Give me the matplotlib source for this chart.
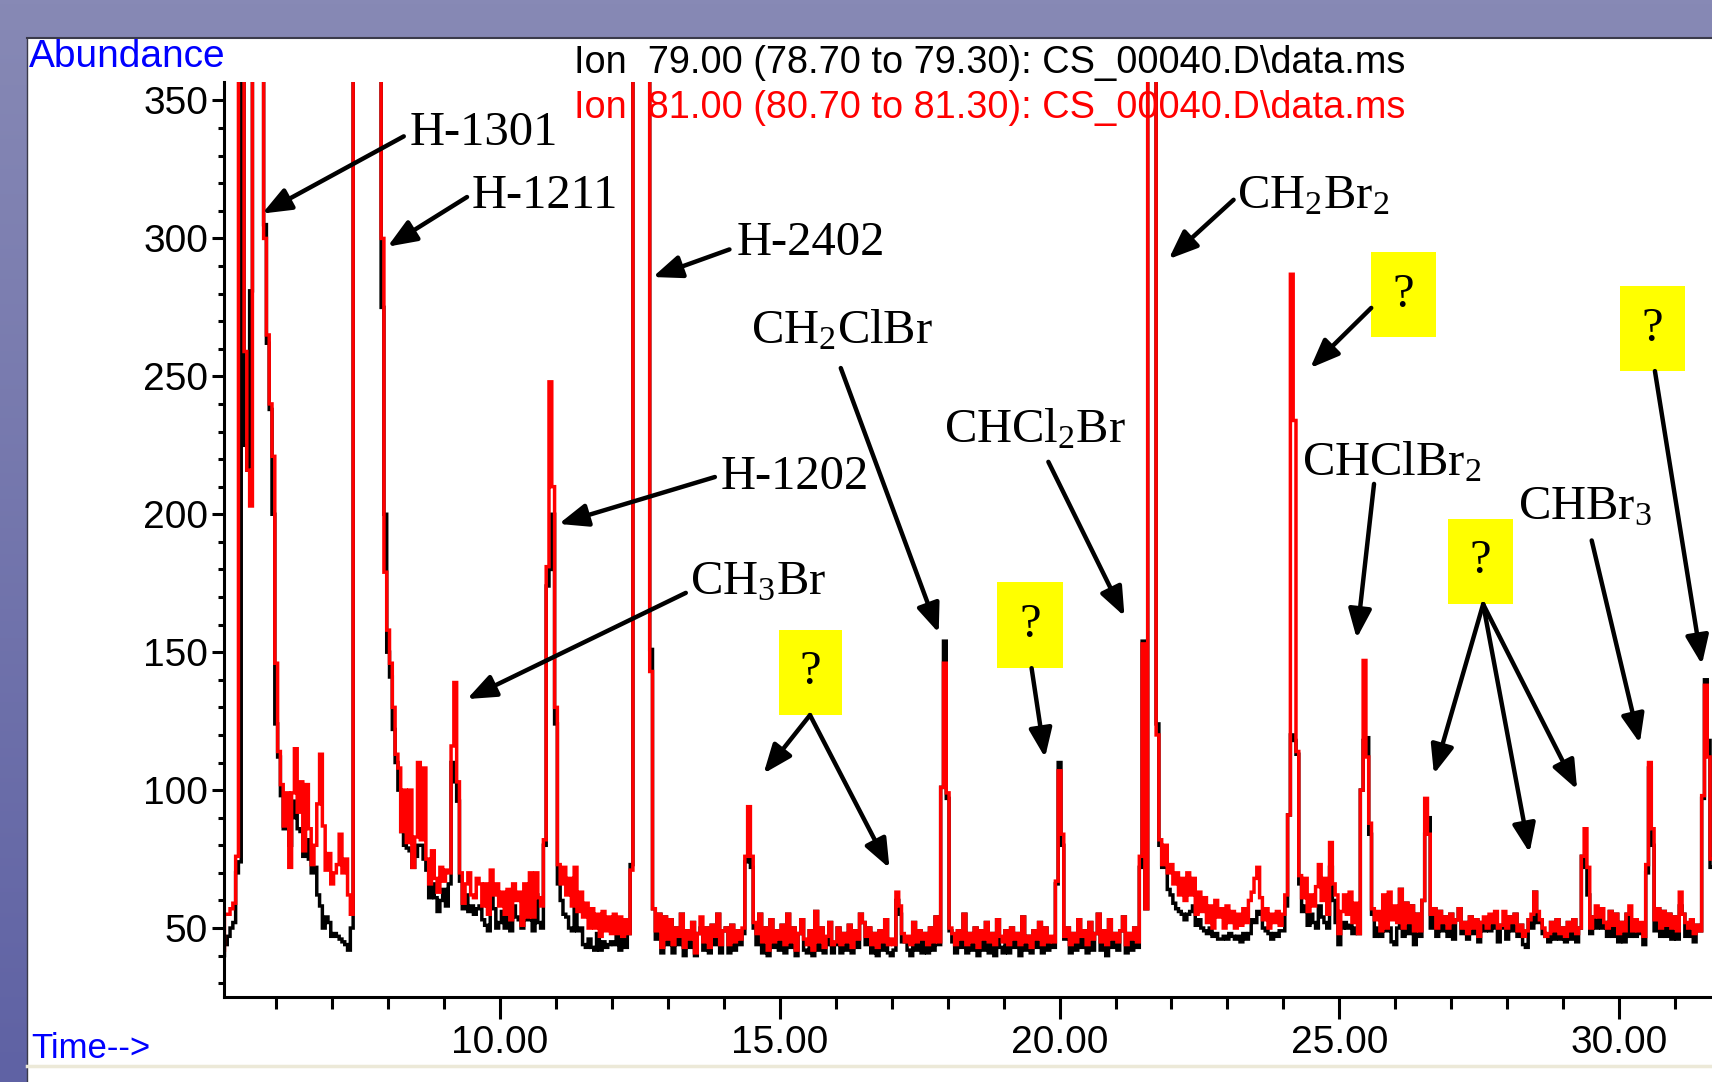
import numpy as np
import matplotlib
matplotlib.use('Agg')
import matplotlib.pyplot as plt
from matplotlib.patches import Rectangle
from matplotlib.lines import Line2D
from matplotlib.ticker import MultipleLocator, FormatStrFormatter

plt.rcParams['mathtext.fontset'] = 'custom'
plt.rcParams['mathtext.rm'] = 'Liberation Serif'

# scans are evenly spaced in time (min)
scan_start = 5.05
scan_step = 0.05

# ion 81 (red), one row per minute, abundance; 500 = off scale
ion81 = [
    42, 55, 55, 57, 59, 76, 500, 500, 259, 216, 203, 500, 500, 500, 500, 300, 265, 240, 221, 146,  # 5.05
    114, 102, 87, 99, 72, 99, 115, 92, 103, 78, 102, 86, 73, 80, 95, 113, 87, 71, 77, 66,  # 6.05
    70, 73, 84, 70, 75, 62, 55, 500, 500, 500, 500, 500, 500, 500, 500, 500, 500, 300, 179, 158,  # 7.05
    146, 130, 113, 108, 85, 100, 81, 100, 72, 83, 110, 82, 108, 75, 66, 78, 68, 63, 72, 67,  # 8.05
    71, 70, 116, 139, 103, 70, 59, 66, 70, 62, 61, 68, 66, 58, 66, 55, 71, 62, 66, 58,  # 9.05
    63, 55, 64, 53, 66, 60, 63, 51, 66, 54, 70, 54, 70, 61, 58, 82, 181, 248, 210, 130,  # 10.05
    73, 66, 72, 62, 68, 58, 72, 56, 63, 54, 59, 50, 57, 50, 55, 47, 56, 49, 54, 48,  # 11.05
    55, 48, 54, 47, 53, 48, 71, 500, 500, 500, 500, 500, 500, 143, 57, 49, 55, 43, 54, 46,  # 12.05
    53, 44, 50, 47, 55, 43, 49, 46, 52, 41, 48, 54, 45, 50, 43, 51, 47, 55, 44, 49,  # 13.05
    50, 44, 51, 45, 49, 46, 50, 76, 94, 76, 52, 48, 55, 45, 50, 42, 53, 45, 49, 46,  # 14.05
    51, 44, 55, 45, 50, 42, 48, 53, 46, 44, 49, 42, 56, 45, 50, 43, 47, 52, 44, 45,  # 15.05
    50, 44, 48, 45, 51, 43, 49, 46, 55, 52, 47, 50, 44, 48, 43, 49, 45, 53, 44, 46,  # 16.05
    44, 63, 58, 48, 45, 47, 44, 52, 45, 49, 46, 48, 44, 50, 45, 54, 45, 101, 146, 99,  # 17.05
    50, 48, 44, 49, 46, 55, 44, 48, 45, 50, 43, 49, 46, 52, 45, 48, 44, 53, 47, 45,  # 18.05
    49, 44, 50, 46, 48, 44, 54, 45, 47, 43, 49, 46, 52, 44, 50, 45, 47, 45, 67, 107,  # 19.05
    84, 47, 50, 44, 48, 45, 53, 47, 49, 44, 52, 46, 48, 55, 45, 49, 44, 53, 46, 48,  # 20.05
    45, 49, 54, 44, 48, 46, 50, 45, 76, 153, 57, 500, 500, 500, 120, 82, 73, 80, 70, 73,  # 21.05
    66, 70, 62, 68, 60, 70, 62, 68, 55, 63, 56, 61, 52, 58, 50, 60, 54, 57, 50, 58,  # 22.05
    52, 56, 50, 55, 51, 57, 52, 60, 63, 68, 72, 61, 53, 57, 50, 55, 52, 56, 51, 55,  # 23.05
    62, 91, 287, 234, 114, 69, 61, 68, 56, 62, 58, 65, 73, 60, 68, 55, 81, 66, 62, 48,  # 24.05
    56, 62, 55, 63, 52, 59, 48, 100, 147, 112, 88, 57, 53, 56, 49, 62, 50, 63, 53, 58,  # 25.05
    52, 64, 50, 59, 52, 58, 49, 55, 49, 60, 97, 84, 55, 57, 50, 56, 52, 54, 50, 55,  # 26.05
    52, 53, 57, 50, 52, 48, 54, 50, 53, 47, 52, 54, 50, 55, 52, 56, 50, 51, 56, 50,  # 27.05
    54, 52, 55, 49, 51, 47, 49, 53, 55, 63, 56, 53, 50, 47, 48, 52, 49, 53, 48, 50,  # 28.05
    47, 52, 49, 53, 48, 50, 76, 86, 72, 50, 54, 58, 54, 57, 52, 50, 56, 51, 55, 48,  # 29.05
    52, 49, 55, 58, 49, 53, 49, 52, 47, 73, 110, 86, 53, 57, 50, 56, 51, 55, 50, 54,  # 30.05
    49, 63, 55, 52, 50, 53, 48, 51, 49, 98, 138, 112, 75,  # 31.05
]

# ion 79 (black)
ion79 = [
    40, 44, 47, 50, 52, 70, 74, 500, 225, 216, 281, 500, 500, 500, 500, 305, 262, 238, 200, 124,  # 5.05
    112, 98, 86, 92, 80, 90, 96, 86, 85, 76, 82, 75, 70, 72, 62, 58, 50, 54, 52, 47,  # 6.05
    48, 47, 46, 45, 44, 42, 50, 500, 500, 500, 500, 500, 500, 500, 500, 500, 500, 275, 200, 150,  # 7.05
    141, 122, 110, 100, 85, 80, 79, 78, 72, 76, 80, 80, 75, 71, 61, 66, 61, 56, 60, 64,  # 8.05
    58, 66, 110, 103, 96, 67, 57, 62, 56, 58, 55, 57, 58, 53, 51, 49, 62, 57, 50, 52,  # 9.05
    56, 50, 55, 49, 58, 54, 53, 50, 56, 53, 60, 49, 62, 52, 50, 80, 174, 180, 200, 124,  # 10.05
    66, 60, 55, 54, 50, 49, 58, 49, 50, 44, 43, 46, 43, 42, 48, 42, 45, 43, 44, 45,  # 11.05
    44, 48, 42, 47, 43, 48, 73, 500, 500, 500, 500, 500, 500, 151, 57, 46, 55, 41, 54, 44,  # 12.05
    53, 41, 50, 44, 55, 40, 49, 43, 52, 40, 48, 50, 42, 50, 41, 51, 44, 55, 41, 49,  # 13.05
    50, 41, 51, 42, 49, 44, 48, 74, 76, 72, 50, 44, 55, 41, 50, 40, 53, 43, 49, 42,  # 14.05
    51, 41, 55, 43, 50, 40, 48, 53, 42, 41, 49, 40, 56, 42, 50, 41, 44, 52, 41, 44,  # 15.05
    50, 41, 48, 42, 51, 41, 49, 43, 55, 52, 44, 50, 41, 48, 40, 49, 42, 53, 41, 40,  # 16.05
    42, 60, 55, 45, 45, 42, 40, 52, 42, 49, 41, 48, 41, 50, 42, 54, 44, 101, 154, 97,  # 17.05
    49, 45, 41, 49, 43, 55, 41, 48, 42, 50, 40, 49, 42, 52, 41, 48, 40, 53, 43, 41,  # 18.05
    49, 41, 50, 43, 48, 40, 54, 42, 47, 41, 49, 43, 52, 41, 50, 42, 44, 43, 66, 110,  # 19.05
    80, 46, 50, 41, 48, 42, 53, 43, 49, 41, 52, 42, 48, 55, 42, 49, 40, 53, 43, 48,  # 20.05
    42, 49, 54, 41, 48, 42, 50, 43, 72, 154, 57, 500, 500, 500, 124, 80, 72, 72, 64, 62,  # 21.05
    59, 57, 56, 55, 53, 55, 56, 58, 51, 53, 50, 49, 48, 50, 47, 48, 46, 46, 47, 46,  # 22.05
    48, 47, 46, 47, 45, 48, 46, 48, 53, 52, 56, 55, 50, 49, 48, 46, 48, 47, 49, 49,  # 23.05
    58, 91, 120, 118, 113, 66, 56, 58, 51, 55, 52, 50, 58, 54, 52, 50, 72, 60, 52, 44,  # 24.05
    50, 52, 50, 51, 48, 50, 48, 100, 118, 119, 84, 55, 47, 50, 47, 52, 49, 50, 45, 44,  # 25.05
    50, 64, 47, 59, 48, 58, 44, 55, 47, 60, 84, 90, 50, 57, 47, 56, 49, 54, 47, 55,  # 26.05
    46, 53, 57, 48, 52, 46, 54, 48, 53, 45, 52, 49, 50, 49, 52, 50, 45, 51, 50, 46,  # 27.05
    54, 49, 55, 47, 51, 44, 43, 53, 50, 63, 52, 53, 48, 47, 45, 52, 46, 53, 46, 50,  # 28.05
    45, 52, 46, 53, 45, 50, 76, 72, 62, 48, 54, 50, 54, 50, 52, 47, 56, 47, 55, 45,  # 29.05
    52, 45, 55, 47, 49, 47, 49, 48, 44, 70, 108, 80, 49, 57, 47, 56, 47, 55, 46, 54,  # 30.05
    46, 58, 55, 47, 50, 47, 45, 51, 49, 97, 140, 118, 72,  # 31.05
]

time_ticks = [10, 15, 20, 25, 30]
abund_ticks = [50, 100, 150, 200, 250, 300, 350]

header_79 = r"Ion  79.00 (78.70 to 79.30): CS_00040.D\data.ms"
header_81 = r"Ion  81.00 (80.70 to 81.30): CS_00040.D\data.ms"

# compound labels: text, text anchor (time, abundance), arrow tail, arrow tip
compounds = [
    ("H-1301", (8.38, 334), (8.28, 337), (5.75, 309)),
    ("H-1211", (9.49, 311), (9.41, 315), (7.99, 297)),
    ("H-2402", (14.23, 294), (14.10, 296), (12.73, 286)),
    (r"$\mathrm{CH_2ClBr}$", (14.49, 262), (16.09, 253), (17.84, 157)),
    (r"$\mathrm{CHCl_2Br}$", (17.94, 226), (19.80, 219), (21.16, 163)),
    (r"$\mathrm{CH_2Br_2}$", (23.17, 311), (23.11, 314), (21.95, 292.5)),
    (r"$\mathrm{CHClBr_2}$", (24.34, 214), (25.62, 211), (25.31, 155)),
    (r"$\mathrm{CHBr_3}$", (28.19, 198), (29.51, 190.5), (30.37, 117)),
    ("H-1202", (13.94, 209), (13.84, 213.5), (11.05, 196.5)),
    (r"$\mathrm{CH_3Br}$", (13.40, 171), (13.32, 171.5), (9.41, 133)),
]

# unknown peaks: box (left, bottom, right, top) and arrow tips
unknowns = [
    ((14.98, 127.2, 16.12, 158.2), [(14.71, 106), (16.96, 71.7)]),
    ((18.89, 144.2, 20.06, 175.5), [(19.74, 111.8)]),
    ((25.57, 264.1, 26.72, 295.0), [(24.48, 253.0)]),
    ((30.02, 251.9, 31.17, 282.7), [(31.48, 145.5)]),
    ((26.95, 167.4, 28.10, 198.4), [(26.69, 105.8), (28.40, 77.3), (29.25, 100.2)]),
]
# where each unknown's arrows start
unknown_tails = [(15.54, 127.2), (19.50, 144.2), (25.57, 274.8), (30.64, 251.9), (27.57, 167.4)]

W, H = 1712, 1082
fig = plt.figure(figsize=(W / 100, H / 100), dpi=100)

# window background: lavender frame, white panel
bg = fig.add_axes([0, 0, 1, 1])
grad = np.linspace(0, 1, 256).reshape(-1, 1)
top_c = np.array([0x87, 0x89, 0xB5]) / 255
bot_c = np.array([0x5F, 0x62, 0xA4]) / 255
img = top_c[None, None, :] * (1 - grad[:, :, None]) + bot_c[None, None, :] * grad[:, :, None]
bg.imshow(img, aspect='auto', extent=[0, 1, 0, 1], origin='upper')
bg.set_xlim(0, 1)
bg.set_ylim(0, 1)
bg.axis('off')
px, py = 27 / W, 38 / H
bg.add_patch(Rectangle((px, 0), 1 - px, 1 - py, facecolor='white', edgecolor='none'))
bg.add_line(Line2D([px, 1], [1 - py, 1 - py], color='#3a3a4a', lw=1.5))
bg.add_line(Line2D([px, px], [0, 1 - py], color='#3a3a4a', lw=1.0))
bg.add_line(Line2D([px, 1], [16 / H, 16 / H], color='#ECE9D8', lw=2.5))

ax = fig.add_axes([224 / W, (H - 997) / H, (W - 224) / W, (997 - 82) / H])
ax.patch.set_alpha(0)

t = scan_start + scan_step * np.arange(len(ion81))
ax.plot(t, ion79, color='black', lw=2.5, drawstyle='steps-mid', solid_joinstyle='miter')
ax.plot(t, ion81, color='#FF0000', lw=2.5, drawstyle='steps-mid', solid_joinstyle='miter')

ax.set_xlim(5.067, 31.66)
ax.set_ylim(25.0, 356.7)
for s in ['top', 'right']:
    ax.spines[s].set_visible(False)
for s in ['left', 'bottom']:
    ax.spines[s].set_linewidth(2.2)

ax.set_xticks(time_ticks)
ax.xaxis.set_minor_locator(MultipleLocator(1))
ax.xaxis.set_major_formatter(FormatStrFormatter('%.2f'))
ax.set_yticks(abund_ticks)
ax.yaxis.set_minor_locator(MultipleLocator(10))
ax.tick_params(axis='x', which='major', length=16, width=2.2, pad=4, labelsize=28)
ax.tick_params(axis='x', which='minor', length=8.5, width=2.2)
ax.tick_params(axis='y', which='major', length=8.5, width=2.2, pad=3, labelsize=28)
ax.tick_params(axis='y', which='minor', length=4.5, width=2.2)
for lab in ax.get_xticklabels() + ax.get_yticklabels():
    lab.set_fontfamily(['Liberation Sans', 'DejaVu Sans'])

sans = ['Liberation Sans', 'DejaVu Sans']
serif = ['Liberation Serif', 'DejaVu Serif']
fig.text(29 / W, 1 - 67 / H, "Abundance", color='#0000FF', fontsize=28, family=sans, va='baseline')
fig.text(31 / W, 1 - 1058 / H, "Time-->", color='#0000FF', fontsize=25, family=sans, va='baseline')
fig.text(574 / W, 1 - 73 / H, header_79, color='black', fontsize=27.3, family=sans, va='baseline')
fig.text(574 / W, 1 - 118 / H, header_81, color='#FF0000', fontsize=27.3, family=sans, va='baseline')

arrow_style = dict(arrowstyle='-|>,head_length=1.25,head_width=0.5', color='black',
                   lw=3.2, shrinkA=0, shrinkB=0, mutation_scale=14)

for label, txy, tail, tip in compounds:
    ax.text(txy[0], txy[1], label, fontsize=35, family=serif, ha='left', va='baseline', zorder=5)
    ax.annotate('', xy=tip, xytext=tail, arrowprops=arrow_style, zorder=5)

for (box, tips), tail in zip(unknowns, unknown_tails):
    x0, y0, x1, y1 = box
    ax.add_patch(Rectangle((x0, y0), x1 - x0, y1 - y0, facecolor='#FFFF00', edgecolor='none', zorder=5))
    ax.text((x0 + x1) / 2, (y0 + y1) / 2, '?', fontsize=35, family=serif, ha='center', va='center', zorder=6)
    for tip in tips:
        ax.annotate('', xy=tip, xytext=tail, arrowprops=arrow_style, zorder=5)

fig.savefig('out.png', dpi=100)
